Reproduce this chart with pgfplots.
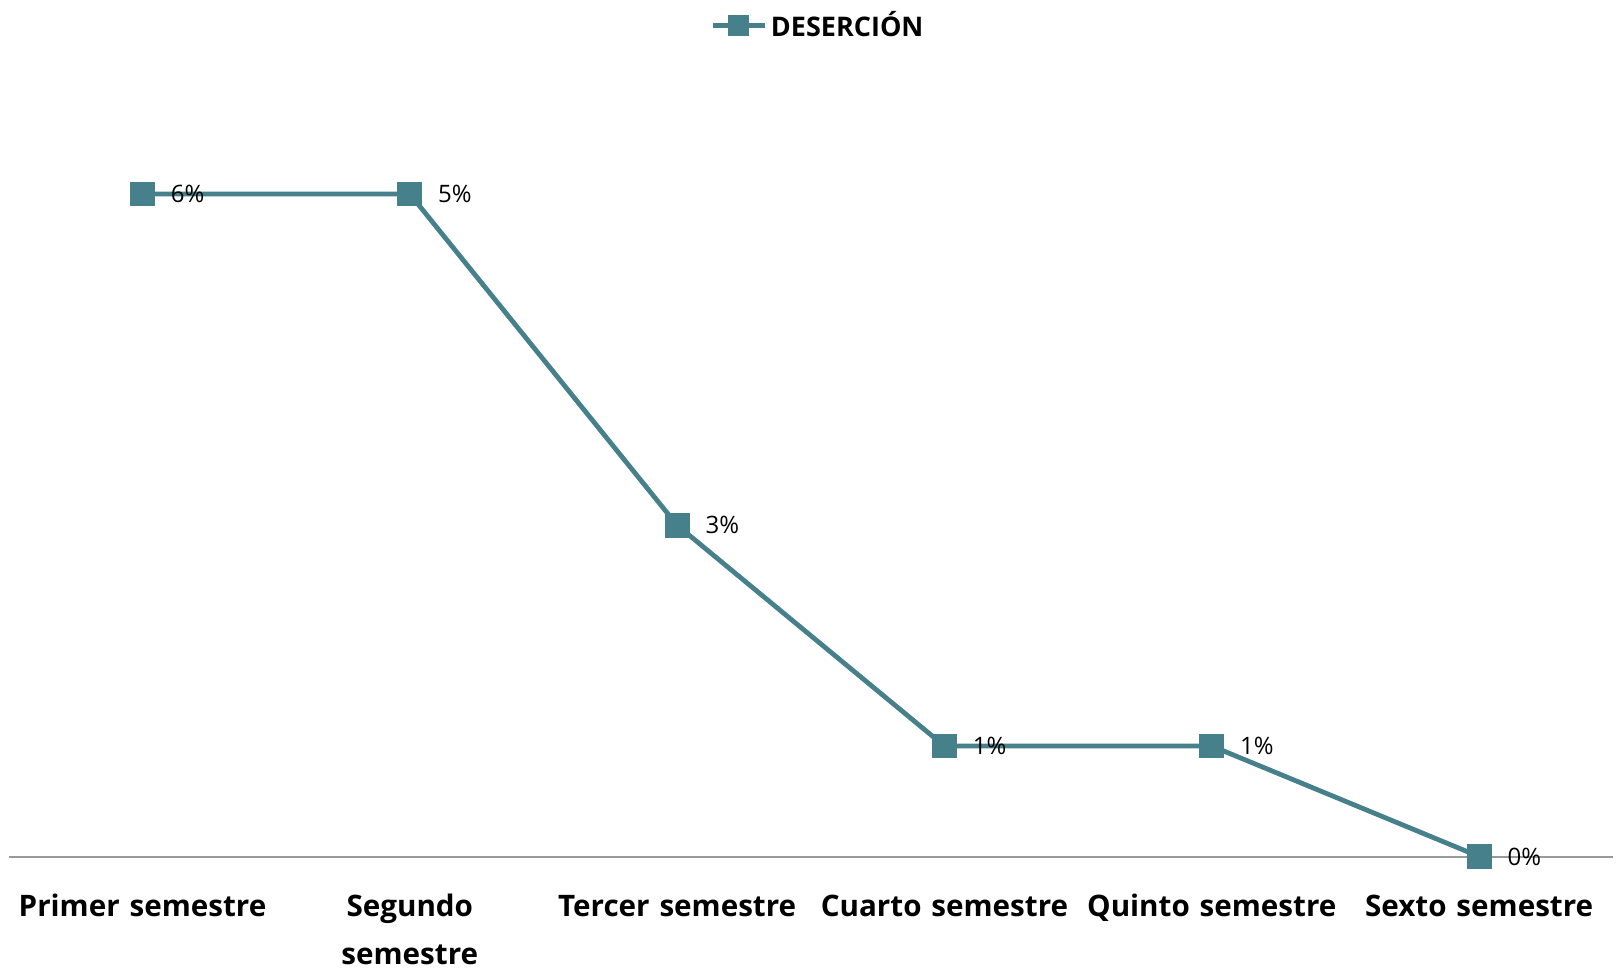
\documentclass[border=0pt]{standalone}
\usepackage{pgfplots}
\pgfplotsset{compat=1.18}
\usepackage{fontspec}
\setmainfont{Open Sans}
\definecolor{teal1}{HTML}{46808A}
\begin{document}
\begin{tikzpicture}
\useasboundingbox (-4.4pt,-56.75pt) rectangle (805.6pt,428.25pt);
\begin{axis}[
  at={(0pt,0pt)}, anchor=south west,
  scale only axis, width=802pt, height=386.5pt,
  xmin=-0.5, xmax=5.5, ymin=0, ymax=7,
  clip=false,
  hide y axis,
  axis x line*=bottom,
  x axis line style={-, draw=black!40, line width=1pt},
  xtick={0,1,2,3,4,5},
  xticklabels={Primer semestre, Segundo\\ semestre, Tercer semestre, Cuarto semestre, Quinto semestre, Sexto semestre},
  major tick length=0pt,
  xticklabel style={font=\fontsize{14.8}{23.8}\selectfont\bfseries, text width=140pt, align=center, anchor=north, yshift=-10pt, execute at begin node=\strut},
  legend style={at={(0.5,1)}, anchor=center, yshift=29pt, xshift=4pt, draw=none, fill=none, font=\fontsize{13.5}{17}\selectfont\bfseries, inner sep=0pt},
  legend image code/.code={\draw[mark repeat=2,mark phase=2, mark size=4pt] plot coordinates {(0pt,0pt)(13pt,0pt)(26pt,0pt)};},
]
\addplot[color=teal1, line width=2.4pt, mark=square*, mark size=5pt, mark options={solid},
  point meta=explicit symbolic,
  nodes near coords={\pgfplotspointmeta\%},
  nodes near coords style={anchor=west, xshift=13pt, inner sep=0pt, text=black, font=\fontsize{12}{14}\selectfont},
] table[meta=lab] {
x y lab
0 6 6
1 6 5
2 3 3
3 1 1
4 1 1
5 0 0
};
\addlegendentry{DESERCIÓN}
\end{axis}
\end{tikzpicture}
\end{document}
